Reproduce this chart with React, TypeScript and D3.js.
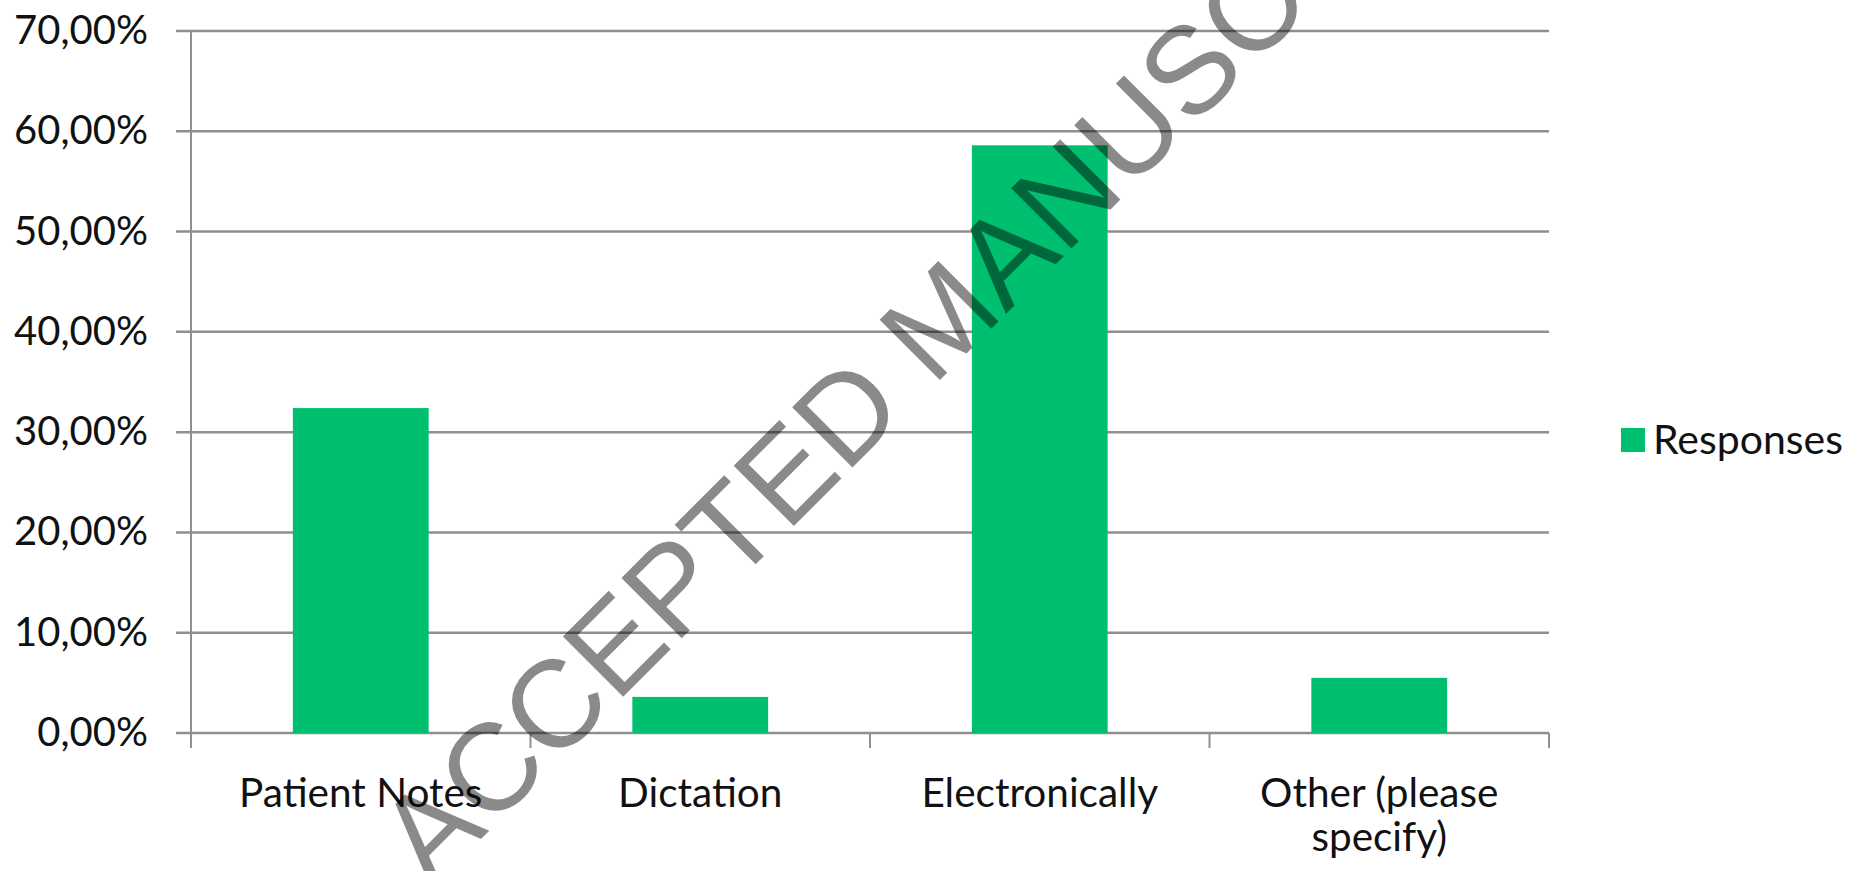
import React from "react";
import * as d3 from "d3";

// Survey responses (share of respondents)
const categories = ["Patient Notes", "Dictation", "Electronically", "Other (please specify)"];
const categoryLines = [["Patient Notes"], ["Dictation"], ["Electronically"], ["Other (please", "specify)"]];
const responses = [0.324, 0.036, 0.586, 0.055];
const yTicks = [0, 0.1, 0.2, 0.3, 0.4, 0.5, 0.6, 0.7];
const seriesName = "Responses";

const WIDTH = 1871;
const HEIGHT = 871;
const GREEN = "#00BF6F";
const GRID = "#8f8f8f";
const FONT = "Lato, 'Open Sans', sans-serif";

const locale = d3.formatLocale({ decimal: ",", thousands: ".", grouping: [3], currency: ["", "€"] });
const pct = locale.format(".2%");

export default function App() {
  const left = 191;
  const right = 1549;
  const top = 31;
  const bottom = 733;

  const y = d3.scaleLinear().domain([0, 0.7]).range([bottom, top]);
  const x = d3.scaleBand<string>().domain(categories).range([left, right]).padding(0);
  const barW = x.bandwidth() * 0.4;
  const edges = [...categories.map((c) => x(c) as number), right];

  return (
    <svg
      width={WIDTH}
      height={HEIGHT}
      style={{ position: "absolute", left: 0, top: 0, background: "#fff" }}
      fontFamily={FONT}
    >
      <rect x={0} y={0} width={WIDTH} height={HEIGHT} fill="#fff" />
      {/* horizontal gridlines, extending left as tick marks */}
      {yTicks.map((t) => (
        <line key={"g" + t} x1={left - 15} x2={right} y1={y(t)} y2={y(t)} stroke={GRID} strokeWidth={2.5} />
      ))}
      {/* value axis */}
      <line x1={left} x2={left} y1={top} y2={bottom + 15} stroke={GRID} strokeWidth={2} />
      {/* category ticks */}
      {edges.map((e, i) => (
        <line key={"t" + i} x1={e} x2={e} y1={bottom} y2={bottom + 15} stroke={GRID} strokeWidth={2} />
      ))}
      {/* y labels */}
      {yTicks.map((t) => (
        <text key={"l" + t} x={148} y={y(t) + 13} textAnchor="end" fontSize={40} fill="#111">
          {pct(t)}
        </text>
      ))}
      {/* bars */}
      {categories.map((c, i) => (
        <rect
          key={c}
          x={(x(c) as number) + (x.bandwidth() - barW) / 2}
          y={y(responses[i])}
          width={barW}
          height={bottom - y(responses[i])}
          fill={GREEN}
        />
      ))}
      {/* category labels */}
      {categories.map((c, i) => (
        <text key={"c" + c} textAnchor="middle" fontSize={40.5} fill="#111">
          {categoryLines[i].map((ln, j) => (
            <tspan key={j} x={(x(c) as number) + x.bandwidth() / 2} y={807 + j * 44}>
              {ln}
            </tspan>
          ))}
        </text>
      ))}
      {/* legend */}
      <rect x={1621} y={428} width={24} height={24} fill={GREEN} />
      <text x={1653} y={454} fontSize={41} fill="#111">
        {seriesName}
      </text>
      {/* watermark */}
      <text
        transform="translate(431,889) rotate(-45)"
        fontFamily="'Liberation Sans', Arial, sans-serif"
        fontSize={124}
        fill="#000"
        fillOpacity={0.46}
      >
        ACCEPTED MANUSCRIPT
      </text>
    </svg>
  );
}
